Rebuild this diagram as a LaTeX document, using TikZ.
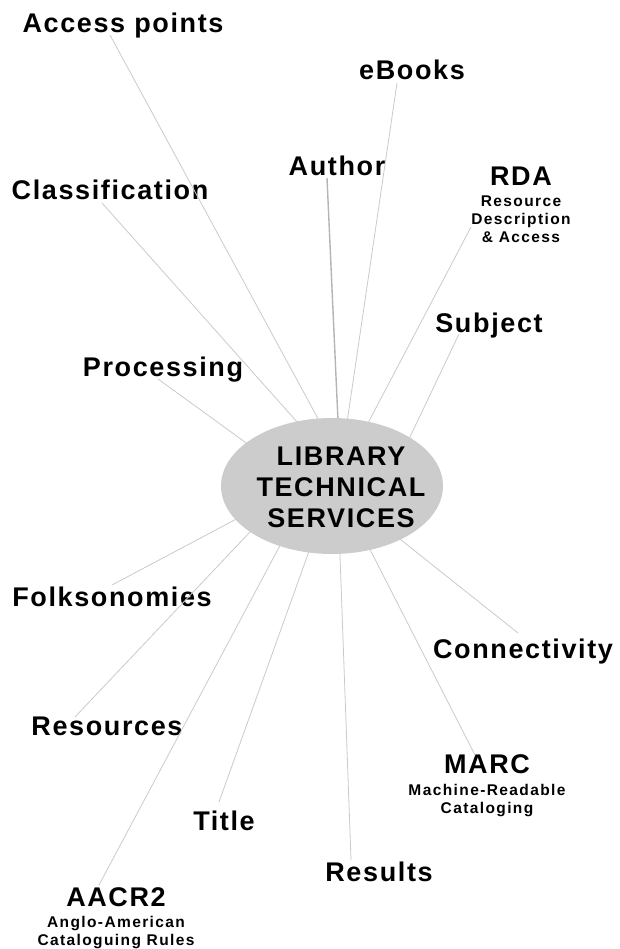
\documentclass[tikz,border=0pt]{standalone}
\usepackage{fontspec}
\setmainfont{Liberation Sans}[LetterSpace=6]
\newfontfamily\glossfamily{Liberation Sans}[LetterSpace=9]
\usetikzlibrary{shapes.geometric}
\definecolor{lbhub}{HTML}{CCCCCC}
\definecolor{lbspoke}{HTML}{CACACA}
\definecolor{lbauthor}{HTML}{B4B4B4}
\tikzset{
  hub/.style={ellipse,fill=lbhub,minimum width=222pt,minimum height=136pt,
              inner sep=0pt},
  hubtext/.style={font=\fontsize{27}{31}\selectfont\bfseries,align=center,
                  inner sep=0pt},
  term/.style={font=\fontsize{27}{30}\selectfont\bfseries,anchor=base,
               inner sep=0pt},
  % gloss nodes sit on the baseline of their last line
  gloss/.style={font=\glossfamily\fontsize{15.5}{18}\selectfont\bfseries,
                align=center,anchor=base,inner sep=0pt},
  spoke/.style={draw=lbspoke,line width=0.8pt},
}

\begin{document}
\begin{tikzpicture}[x=1pt,y=-1pt]
  \useasboundingbox (0,0) rectangle (619,949);

  % ===== terms round the hub (placed on their baselines) =====
  \node[term] (access) at (123,33) {Access points};
  \node[term] (ebooks) at (412,80) {eBooks};
  \node[term] (author) at (337,176) {Author};
  \node[term] (classif) at (110,200) {Classification};
  \node[term] (rda) at (521,186) {RDA};
  \node[gloss] (rda-g) at (521,243) {Resource\\Description\\\& Access};
  \node[term] (subject) at (489,332) {Subject};
  \node[term] (process) at (163,376) {Processing};
  \node[term] (folkso) at (112,606) {Folksonomies};
  \node[term] (connect) at (523,658) {Connectivity};
  \node[term] (resources) at (107,735) {Resources};
  \node[term] (marc) at (487,773) {MARC};
  \node[gloss] (marc-g) at (487,813) {Machine-Readable\\Cataloging};
  \node[term] (title) at (224,830) {Title};
  \node[term] (results) at (379,881) {Results};
  \node[term] (aacr) at (116,906) {AACR2};
  \node[gloss] (aacr-g) at (116,945) {Anglo-American\\Cataloguing Rules};

  % outer spoke ends, just under each term
  \coordinate (access-o) at (110,35);
  \coordinate (ebooks-o) at (397,83);
  \coordinate (author-o) at (327,178);
  \coordinate (classif-o) at (102,203);
  \coordinate (rda-o) at (471,227);
  \coordinate (subject-o) at (459,334);
  \coordinate (process-o) at (158,379);
  \coordinate (folkso-o) at (112,585);
  \coordinate (connect-o) at (518,633);
  \coordinate (resources-o) at (75,717);
  \coordinate (marc-o) at (475,755);
  \coordinate (title-o) at (219,802);
  \coordinate (results-o) at (351,860);
  \coordinate (aacr-o) at (99,885);

  % inner spoke ends, hidden under the hub
  \coordinate (access-i) at (329,439);
  \coordinate (ebooks-i) at (344,443);
  \coordinate (author-i) at (339,443);
  \coordinate (classif-i) at (314,441);
  \coordinate (rda-i) at (357,444);
  \coordinate (subject-i) at (399,460);
  \coordinate (process-i) at (267,458);
  \coordinate (folkso-i) at (259,507);
  \coordinate (connect-i) at (381,524);
  \coordinate (resources-i) at (266,515);
  \coordinate (marc-i) at (359,528);
  \coordinate (title-i) at (317,529);
  \coordinate (results-i) at (339,528);
  \coordinate (aacr-i) at (292,523);

  \foreach \t in {access,ebooks,classif,rda,subject,process,folkso,
                  connect,resources,marc,title,results,aacr}{
    \draw[spoke] (\t-o) -- (\t-i);
  }
  \draw[spoke,draw=lbauthor,line width=1.4pt] (author-o) -- (author-i);

  % ===== hub =====
  \node[hub] (hub) at (332,486) {};
  \node[hubtext] (hubtext) at (341,487.5) {LIBRARY\\TECHNICAL\\SERVICES};
\end{tikzpicture}
\end{document}
